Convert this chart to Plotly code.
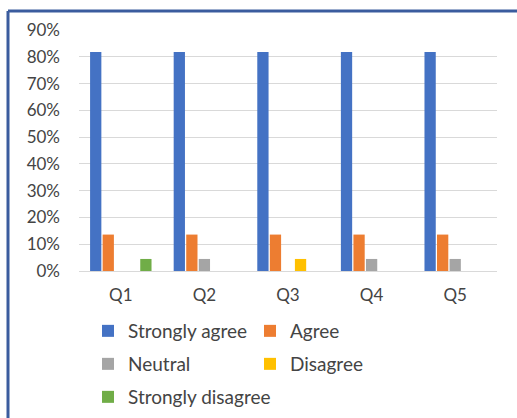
import plotly.graph_objects as go

# Survey responses per question (share of respondents)
questions = ["Q1", "Q2", "Q3", "Q4", "Q5"]
strongly_agree = [0.818, 0.818, 0.818, 0.818, 0.818]
agree = [0.136, 0.136, 0.136, 0.136, 0.136]
neutral = [0.0, 0.045, 0.0, 0.045, 0.045]
disagree = [0.0, 0.0, 0.045, 0.0, 0.0]
strongly_disagree = [0.045, 0.0, 0.0, 0.0, 0.0]

series = [
    ("Strongly agree", strongly_agree, "#4472C4", "legend"),
    ("Agree", agree, "#ED7D31", "legend"),
    ("Neutral", neutral, "#A5A5A5", "legend2"),
    ("Disagree", disagree, "#FFC000", "legend2"),
    ("Strongly disagree", strongly_disagree, "#70AD47", "legend3"),
]

FONT = "Lato"
TEXT = "#444444"
GRID = "#D9D9D9"

fig = go.Figure()
for name, vals, color, leg in series:
    fig.add_trace(go.Bar(
        x=questions, y=vals, name=name, marker_color=color,
        marker_line_width=0, legend=leg,
    ))

W, H = 517, 418
ml, mr, mt, mb = 79, 20, 30, 147
pw, ph = W - ml - mr, H - mt - mb


def px_x(x):
    return (x - ml) / pw


def px_y(y):
    return (H - mb - y) / ph


def legend_row(y_px, entry_w=117):
    # Legend rows are placed in container coordinates so they do not push the margins
    return dict(
        xref="container", yref="container",
        x=88 / W, y=1 - y_px / H,
        orientation="h", xanchor="left", yanchor="middle",
        entrywidth=entry_w, entrywidthmode="pixels",
        font=dict(family=FONT, size=19, color=TEXT),
        bgcolor="rgba(0,0,0,0)", borderwidth=0,
        traceorder="normal",
    )


fig.update_layout(
    width=W, height=H,
    margin=dict(l=ml, r=mr, t=mt, b=mb, autoexpand=False),
    paper_bgcolor="white", plot_bgcolor="white",
    barmode="group", bargap=0.25, bargroupgap=0.1,
    font=dict(family=FONT, color=TEXT),
    legend=legend_row(331),
    legend2=legend_row(364),
    legend3=legend_row(397, entry_w=200),
    xaxis=dict(
        showgrid=False, showline=False, ticks="",
        tickfont=dict(family=FONT, size=17, color=TEXT),
        ticklabelstandoff=12,
    ),
    yaxis=dict(
        range=[0, 0.9], dtick=0.1, tickformat=".0%",
        showgrid=True, gridcolor=GRID, gridwidth=1,
        zeroline=True, zerolinecolor=GRID, zerolinewidth=1,
        showline=False, ticks="",
        tickfont=dict(family=FONT, size=17, color=TEXT),
        ticklabelstandoff=18,
    ),
    shapes=[
        # Frame around the chart (top and left edges)
        dict(type="line", xref="paper", yref="paper",
             x0=px_x(8), x1=px_x(540), y0=px_y(11), y1=px_y(11),
             line=dict(color="#3B5C9E", width=3)),
        dict(type="line", xref="paper", yref="paper",
             x0=px_x(8), x1=px_x(8), y0=px_y(11), y1=px_y(440),
             line=dict(color="#3B5C9E", width=3)),
    ],
)

fig.write_html("out.html")
